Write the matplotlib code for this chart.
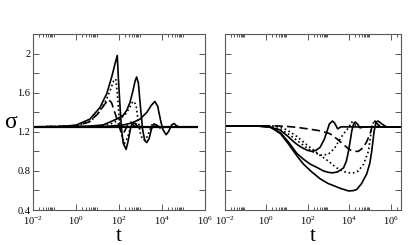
import matplotlib
matplotlib.use("Agg")
import matplotlib.pyplot as plt
from matplotlib.ticker import FixedLocator, LogFormatterMathtext, NullFormatter
import numpy as np

plt.rcParams['font.family'] = ['Liberation Serif', 'DejaVu Serif']
plt.rcParams['mathtext.fontset'] = 'stix'

# ---------------- data (log10 t, sigma) ----------------
# Left panel
L_base_x = [-2, 5.63]
L_base_y = [1.25, 1.25]

L_s1_x = [-2, -0.74, 0.03, 0.65, 1.12, 1.43, 1.66, 1.82, 1.92, 1.97, 2.05, 2.12, 2.2, 2.33, 2.42, 2.55, 2.68, 2.8, 2.95, 3.1, 5.63]
L_s1_y = [1.25, 1.25, 1.27, 1.33, 1.45, 1.59, 1.76, 1.9, 1.98, 1.75, 1.45, 1.22, 1.08, 1.02, 1.1, 1.25, 1.3, 1.27, 1.24, 1.25, 1.25]

L_s2_x = [-2, 0.5, 1.27, 1.89, 2.2, 2.36, 2.51, 2.65, 2.75, 2.82, 2.9, 3.0, 3.1, 3.2, 3.29, 3.4, 3.5, 3.62, 3.75, 3.9, 4.1, 5.63]
L_s2_y = [1.25, 1.255, 1.27, 1.33, 1.37, 1.42, 1.5, 1.62, 1.72, 1.76, 1.7, 1.45, 1.22, 1.11, 1.09, 1.13, 1.22, 1.28, 1.27, 1.24, 1.25, 1.25]

L_s3_x = [-2, 1.4, 2.2, 2.6, 2.98, 3.3, 3.5, 3.67, 3.8, 3.95, 4.05, 4.19, 4.3, 4.45, 4.56, 4.68, 4.8, 5.63]
L_s3_y = [1.25, 1.255, 1.27, 1.29, 1.33, 1.4, 1.47, 1.51, 1.46, 1.3, 1.22, 1.17, 1.2, 1.27, 1.285, 1.26, 1.25, 1.25]

L_d1_x = [-2, 0, 0.7, 1.1, 1.4, 1.6, 1.75, 1.85, 1.92, 2.0, 2.1, 2.25, 2.4, 2.55, 2.7, 2.9, 3.1, 5.63]
L_d1_y = [1.25, 1.26, 1.31, 1.41, 1.52, 1.63, 1.72, 1.74, 1.6, 1.35, 1.18, 1.08, 1.14, 1.26, 1.3, 1.26, 1.25, 1.25]

L_d2_x = [-2, 1.0, 1.6, 2.0, 2.3, 2.5, 2.62, 2.71, 2.8, 2.9, 3.0, 3.1, 3.25, 3.4, 3.55, 3.7, 3.9, 5.63]
L_d2_y = [1.25, 1.255, 1.28, 1.32, 1.38, 1.45, 1.5, 1.51, 1.46, 1.3, 1.18, 1.12, 1.12, 1.2, 1.28, 1.27, 1.25, 1.25]

L_da_x = [-2, 0, 0.6, 1.0, 1.3, 1.5, 1.65, 1.8, 1.95, 2.1, 2.25, 2.4, 2.55, 2.7, 2.9, 5.63]
L_da_y = [1.25, 1.26, 1.3, 1.38, 1.47, 1.53, 1.5, 1.4, 1.3, 1.19, 1.2, 1.27, 1.3, 1.26, 1.25, 1.25]

# Right panel
R_s1_x = [-2, -0.5, 0.11, 0.67, 1.07, 1.32, 1.56, 1.8, 2.0, 2.2, 2.4, 2.6, 2.8, 2.93, 3.05, 3.2, 3.3, 3.45, 3.6, 3.8, 6.5]
R_s1_y = [1.26, 1.26, 1.25, 1.22, 1.15, 1.1, 1.06, 1.03, 1.01, 1.0, 1.01, 1.04, 1.12, 1.2, 1.28, 1.31, 1.29, 1.23, 1.25, 1.25, 1.25]

R_s2_x = [-2, -0.5, 0.2, 0.7, 1.1, 1.48, 1.8, 2.12, 2.5, 2.76, 3.0, 3.2, 3.45, 3.73, 3.87, 3.97, 4.05, 4.13, 4.22, 4.29, 4.4, 4.53, 4.7, 6.5]
R_s2_y = [1.26, 1.26, 1.25, 1.19, 1.09, 0.98, 0.92, 0.87, 0.83, 0.8, 0.785, 0.78, 0.79, 0.83, 0.9, 1.0, 1.1, 1.21, 1.28, 1.3, 1.28, 1.24, 1.25, 1.25]

R_s3_x = [-2, -0.5, 0.2, 0.7, 1.1, 1.5, 1.8, 2.2, 2.6, 3.0, 3.24, 3.6, 3.97, 4.2, 4.37, 4.6, 4.85, 5.0, 5.09, 5.2, 5.3, 5.4, 5.58, 5.8, 6.5]
R_s3_y = [1.26, 1.26, 1.25, 1.18, 1.07, 0.95, 0.87, 0.79, 0.72, 0.67, 0.65, 0.62, 0.595, 0.598, 0.61, 0.67, 0.77, 0.88, 1.0, 1.2, 1.3, 1.31, 1.28, 1.25, 1.25]

R_d1_x = [-2, 0, 0.5, 1.0, 1.5, 2.0, 2.3, 2.65, 3.0, 3.3, 3.49, 3.7, 3.85, 3.97, 4.13, 4.3, 4.45, 6.5]
R_d1_y = [1.26, 1.26, 1.24, 1.19, 1.11, 1.03, 0.99, 0.96, 0.97, 1.03, 1.1, 1.17, 1.21, 1.24, 1.3, 1.27, 1.25, 1.25]

R_d2_x = [-2, 0.5, 1.0, 1.5, 2.0, 2.6, 3.0, 3.41, 3.8, 4.0, 4.21, 4.45, 4.7, 4.93, 5.09, 5.2, 5.35, 5.5, 6.5]
R_d2_y = [1.26, 1.26, 1.22, 1.15, 1.06, 0.96, 0.9, 0.83, 0.79, 0.78, 0.78, 0.8, 0.87, 1.0, 1.24, 1.31, 1.28, 1.25, 1.25]

R_da_x = [-2, 0.5, 1.0, 1.5, 2.0, 2.6, 3.08, 3.4, 3.73, 4.0, 4.21, 4.45, 4.69, 4.85, 5.01, 5.14, 5.25, 5.4, 5.6, 6.5]
R_da_y = [1.26, 1.26, 1.255, 1.245, 1.23, 1.21, 1.18, 1.13, 1.07, 1.02, 1.0, 1.0, 1.04, 1.1, 1.18, 1.28, 1.31, 1.27, 1.25, 1.25]

x_major_exp = [-2, 0, 2, 4, 6]
y_ticks = [0.4, 0.6, 0.8, 1.0, 1.2, 1.4, 1.6, 1.8, 2.0, 2.2]
y_tick_labels = ['0.4', '', '0.8', '', '1.2', '', '1.6', '', '2', '']

# ---------------- figure ----------------
fig = plt.figure(figsize=(4.15, 2.45), dpi=100)
axL = fig.add_axes([33/415, 35/245, 172/415, 176/245])
axR = fig.add_axes([224.5/415, 35/245, 176.5/415, 176/245])

solid = dict(color='black', lw=1.2, ls='-')
dotted = dict(color='black', lw=1.2, ls=(0, (1, 1.6)))
dashed = dict(color='black', lw=1.2, ls=(0, (5, 2.5)))

def P(ax, xs, ys, style, **kw):
    ax.plot(10.0 ** np.array(xs), ys, **{**style, **kw})

P(axL, L_base_x, L_base_y, solid, lw=1.6)
P(axL, L_s1_x, L_s1_y, solid)
P(axL, L_s2_x, L_s2_y, solid)
P(axL, L_s3_x, L_s3_y, solid)
P(axL, L_d1_x, L_d1_y, dotted)
P(axL, L_d2_x, L_d2_y, dotted)
P(axL, L_da_x, L_da_y, dashed)

P(axR, R_s1_x, R_s1_y, solid)
P(axR, R_s2_x, R_s2_y, solid)
P(axR, R_s3_x, R_s3_y, solid)
P(axR, R_d1_x, R_d1_y, dotted)
P(axR, R_d2_x, R_d2_y, dotted)
P(axR, R_da_x, R_da_y, dashed)

minor_ticks = [j * 10.0 ** k for k in x_major_exp for j in range(2, 10)]

for ax, xmax in ((axL, 1e6), (axR, 10 ** 6.5)):
    ax.set_xscale('log')
    ax.set_xlim(1e-2, xmax)
    ax.set_ylim(0.4, 2.2)
    ax.xaxis.set_major_locator(FixedLocator([10.0 ** e for e in x_major_exp]))
    ax.xaxis.set_major_formatter(LogFormatterMathtext())
    ax.xaxis.set_minor_locator(FixedLocator([m for m in minor_ticks if m <= xmax]))
    ax.xaxis.set_minor_formatter(NullFormatter())
    ax.set_yticks(y_ticks)
    ax.tick_params(which='both', direction='in', top=True, right=True,
                   color='0.35', width=0.7, labelsize=7.5, pad=2)
    ax.tick_params(axis='x', which='major', pad=3)
    ax.tick_params(which='major', length=4)
    ax.tick_params(which='minor', length=2)
    for s in ax.spines.values():
        s.set_color('0.35')
        s.set_linewidth(0.8)
    ax.set_xlabel('t', fontsize=15, labelpad=0)

axL.set_yticklabels(y_tick_labels)
axR.set_yticklabels([])
axL.set_ylabel('σ', fontsize=17, labelpad=5, rotation=0, va='center')

fig.savefig('out.png', dpi=100)
